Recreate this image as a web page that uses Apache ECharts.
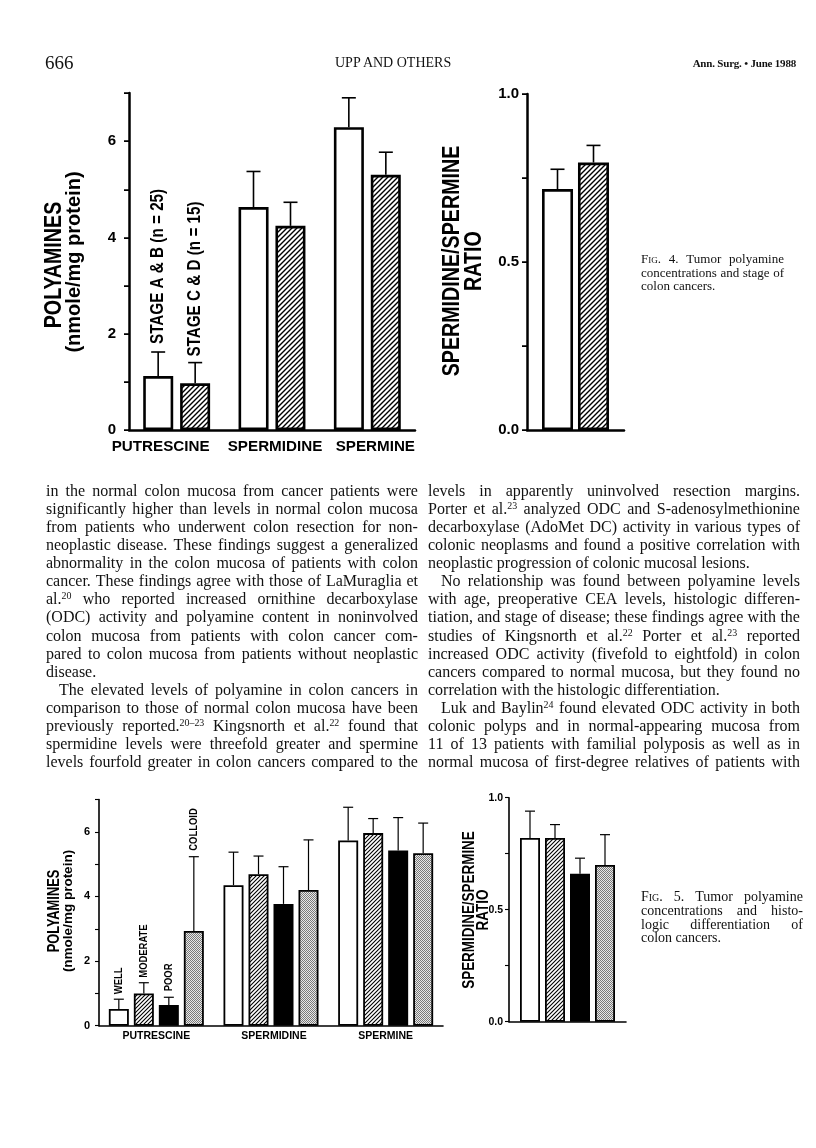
<!DOCTYPE html>
<html><head><meta charset="utf-8">
<script src="https://cdn.jsdelivr.net/npm/echarts@6/dist/echarts.min.js"></script>
<style>
html,body{margin:0;padding:0;background:#fff;}
#page{position:relative;width:816px;height:1148px;overflow:hidden;background:#fff;}
#chart{position:absolute;left:0;top:0;width:816px;height:1148px;}
.t{position:absolute;font-family:'Liberation Serif','Times New Roman',serif;color:#111;white-space:nowrap;}
.ln{position:absolute;display:flex;justify-content:space-between;font-family:'Liberation Serif','Times New Roman',serif;color:#111;white-space:nowrap;}
.ln.last{display:block;}
sup{font-size:0.62em;line-height:0;vertical-align:0.55em;}
i{font-style:normal;font-variant:small-caps;}
</style></head>
<body>
<div id="page"><div id="chart"></div></div>
<script>
// ---------------- DATA ----------------
const fig4Categories = ['PUTRESCINE', 'SPERMIDINE', 'SPERMINE'];
const fig4StageAB = [1.12, 4.63, 6.29];
const fig4StageABErr = [0.50, 0.74, 0.61];
const fig4StageCD = [0.97, 4.24, 5.30];
const fig4StageCDErr = [0.43, 0.49, 0.47];
const fig4RatioAB = [0.717];
const fig4RatioABErr = [0.059];
const fig4RatioCD = [0.796];
const fig4RatioCDErr = [0.051];
const fig4Notes = ['STAGE A & B (n = 25)', 'STAGE C & D (n = 15)'];

const fig5Categories = ['PUTRESCINE', 'SPERMIDINE', 'SPERMINE'];
const fig5Well = [0.52, 4.35, 5.73];
const fig5WellErr = [0.30, 1.02, 1.03];
const fig5Moderate = [1.00, 4.69, 5.96];
const fig5ModerateErr = [0.33, 0.56, 0.45];
const fig5Poor = [0.64, 3.77, 5.42];
const fig5PoorErr = [0.24, 1.15, 1.02];
const fig5Colloid = [2.93, 4.20, 5.34];
const fig5ColloidErr = [2.30, 1.55, 0.93];
const fig5RatioWell = [0.82];
const fig5RatioWellErr = [0.12];
const fig5RatioModerate = [0.82];
const fig5RatioModerateErr = [0.06];
const fig5RatioPoor = [0.66];
const fig5RatioPoorErr = [0.07];
const fig5RatioColloid = [0.70];
const fig5RatioColloidErr = [0.135];
const fig5Notes = ['WELL', 'MODERATE', 'POOR', 'COLLOID'];

const polyTickLabels = [0, 2, 4, 6];
const ratioTickLabels = [0, 0.5, 1];

// ---------------- STYLE HELPERS ----------------
const SANS = "'Liberation Sans',Arial,Helvetica,sans-serif";
const CONDENSE = 0.82;

function hatch(size, lw) {
  const c = document.createElement('canvas');
  c.width = size; c.height = size;
  const g = c.getContext('2d');
  g.fillStyle = '#fff'; g.fillRect(0, 0, size, size);
  g.strokeStyle = '#000'; g.lineWidth = lw; g.beginPath();
  g.moveTo(-1, 1); g.lineTo(1, -1);
  g.moveTo(0, size); g.lineTo(size, 0);
  g.moveTo(size - 1, size + 1); g.lineTo(size + 1, size - 1);
  g.stroke();
  return { image: c, repeat: 'repeat' };
}
function stipple() {
  const c = document.createElement('canvas');
  c.width = 2; c.height = 2;
  const g = c.getContext('2d');
  g.fillStyle = '#e8e8e8'; g.fillRect(0, 0, 2, 2);
  g.fillStyle = '#7a7a7a'; g.fillRect(0, 0, 1, 1); g.fillRect(1, 1, 1, 1);
  return { image: c, repeat: 'repeat' };
}

function barSeries(gi, values, fill, bw, gapPct, borderW) {
  return {
    type: 'bar', xAxisIndex: gi, yAxisIndex: gi, data: values,
    barWidth: bw, barGap: gapPct, silent: true, animation: false,
    itemStyle: { color: fill, borderColor: '#000', borderWidth: borderW }
  };
}

function errSeries(gi, idx, n, bw, gap, values, errs, note, noteFont, noteGap, capW, lw) {
  return {
    type: 'custom', xAxisIndex: gi, yAxisIndex: gi, z: 4, silent: true, animation: false,
    data: values.map((v, k) => [k, v, v + errs[k]]),
    renderItem: function (params, api) {
      const k = api.value(0);
      const base = api.coord([k, api.value(1)]);
      const top = api.coord([k, api.value(2)]);
      const total = n * bw + (n - 1) * gap;
      const x = base[0] - total / 2 + idx * (bw + gap) + bw / 2;
      const children = [
        { type: 'line', shape: { x1: x, y1: base[1], x2: x, y2: top[1] }, style: { stroke: '#000', lineWidth: lw } },
        { type: 'line', shape: { x1: x - capW / 2, y1: top[1], x2: x + capW / 2, y2: top[1] }, style: { stroke: '#000', lineWidth: lw } }
      ];
      if (note && k === 0) {
        children.push({
          type: 'text', x: x, y: top[1] - noteGap, rotation: Math.PI / 2, scaleX: CONDENSE,
          style: { text: note, font: noteFont, fill: '#000', align: 'left', verticalAlign: 'middle', textAlign: 'left', textVerticalAlign: 'middle' }
        });
      }
      return { type: 'group', children: children };
    }
  };
}

function yAxisDef(gi, max, interval, labels, fmt, fontSize, margin, lw, tickLen) {
  return {
    type: 'value', gridIndex: gi, min: 0, max: max, interval: interval,
    axisLine: { show: true, lineStyle: { color: '#000', width: lw } },
    axisTick: { show: true, length: tickLen, lineStyle: { color: '#000', width: Math.max(1, lw * 0.7) } },
    splitLine: { show: false },
    axisLabel: {
      margin: margin, color: '#000', fontWeight: 'bold', fontSize: fontSize, fontFamily: SANS,
      formatter: v => labels.some(l => Math.abs(l - v) < 1e-9) ? fmt(v) : ''
    }
  };
}

function xAxisDef(gi, cats, lw, labelCfg) {
  return {
    type: 'category', gridIndex: gi, data: cats,
    axisLine: { show: true, lineStyle: { color: '#000', width: lw } },
    axisTick: { show: false },
    axisLabel: labelCfg || { show: false }
  };
}

function richLabel(fontSize, margin, shifts) {
  const rich = {};
  shifts.forEach((s, i) => {
    rich['c' + i] = {
      fontSize: fontSize, fontWeight: 'bold', fontFamily: SANS, color: '#000',
      padding: s < 0 ? [0, -2 * s, 0, 0] : [0, 0, 0, 2 * s]
    };
  });
  return {
    show: true, interval: 0, margin: margin,
    formatter: (v, i) => '{c' + i + '|' + v + '}',
    rich: rich
  };
}

function vtext(x, y, text, font, sx) {
  return {
    type: 'text', x: x, y: y, rotation: Math.PI / 2, scaleX: sx, silent: true,
    style: { text: text, font: font, fill: '#000', textAlign: 'center', textVerticalAlign: 'middle', align: 'center', verticalAlign: 'middle' }
  };
}

// ---------------- CHART ----------------
const chart = echarts.init(document.getElementById('chart'), null, { renderer: 'canvas' });

const H4 = hatch(5, 1.4);
const H5 = hatch(4, 1.1);
const G5 = stipple();

const grids = [
  { left: 129, top: 93, width: 286, height: 337 },     // fig 4 polyamines
  { left: 527, top: 94, width: 97, height: 336 },      // fig 4 ratio
  { left: 99, top: 799.5, width: 344, height: 226.2 }, // fig 5 polyamines
  { left: 509, top: 797.7, width: 117, height: 224 }   // fig 5 ratio
];

const fmtInt = v => String(v);
const fmtDec = v => v.toFixed(1);

const option = {
  backgroundColor: 'transparent',
  animation: false,
  grid: grids,
  xAxis: [
    xAxisDef(0, fig4Categories, 2.5, richLabel(15.2, 9, [-16, 3, 8])),
    xAxisDef(1, [''], 2.5),
    xAxisDef(2, fig5Categories, 1.6, richLabel(10.5, 5, [0, 3, 0])),
    xAxisDef(3, [''], 1.6)
  ],
  yAxis: [
    yAxisDef(0, 7, 1, polyTickLabels, fmtInt, 15, 13, 2.5, 5),
    yAxisDef(1, 1, 0.25, ratioTickLabels, fmtDec, 15, 8, 2.5, 5),
    yAxisDef(2, 7, 1, polyTickLabels, fmtInt, 11, 9, 1.6, 4),
    yAxisDef(3, 1, 0.25, ratioTickLabels, fmtDec, 10.5, 6, 1.6, 4)
  ],
  series: [
    // fig 4 left
    barSeries(0, fig4StageAB, '#fff', 30, '23%', 2.6),
    barSeries(0, fig4StageCD, H4, 30, '23%', 2.6),
    errSeries(0, 0, 2, 30, 7, fig4StageAB, fig4StageABErr, fig4Notes[0], 'bold 18.6px ' + SANS, 8, 14, 1.6),
    errSeries(0, 1, 2, 30, 7, fig4StageCD, fig4StageCDErr, fig4Notes[1], 'bold 18.6px ' + SANS, 6, 14, 1.6),
    // fig 4 right
    barSeries(1, fig4RatioAB, '#fff', 31, '16%', 2.6),
    barSeries(1, fig4RatioCD, H4, 31, '16%', 2.6),
    errSeries(1, 0, 2, 31, 5, fig4RatioAB, fig4RatioABErr, null, '', 0, 14, 1.6),
    errSeries(1, 1, 2, 31, 5, fig4RatioCD, fig4RatioCDErr, null, '', 0, 14, 1.6),
    // fig 5 left
    barSeries(2, fig5Well, '#fff', 20, '25%', 1.8),
    barSeries(2, fig5Moderate, H5, 20, '25%', 1.8),
    barSeries(2, fig5Poor, '#000', 20, '25%', 1.8),
    barSeries(2, fig5Colloid, G5, 20, '25%', 1.8),
    errSeries(2, 0, 4, 20, 5, fig5Well, fig5WellErr, fig5Notes[0], 'bold 11.5px ' + SANS, 5, 10, 1.2),
    errSeries(2, 1, 4, 20, 5, fig5Moderate, fig5ModerateErr, fig5Notes[1], 'bold 11.5px ' + SANS, 5, 10, 1.2),
    errSeries(2, 2, 4, 20, 5, fig5Poor, fig5PoorErr, fig5Notes[2], 'bold 11.5px ' + SANS, 6, 10, 1.2),
    errSeries(2, 3, 4, 20, 5, fig5Colloid, fig5ColloidErr, fig5Notes[3], 'bold 11.5px ' + SANS, 6, 10, 1.2),
    // fig 5 right
    barSeries(3, fig5RatioWell, '#fff', 20, '25%', 1.8),
    barSeries(3, fig5RatioModerate, H5, 20, '25%', 1.8),
    barSeries(3, fig5RatioPoor, '#000', 20, '25%', 1.8),
    barSeries(3, fig5RatioColloid, G5, 20, '25%', 1.8),
    errSeries(3, 0, 4, 20, 5, fig5RatioWell, fig5RatioWellErr, null, '', 0, 10, 1.2),
    errSeries(3, 1, 4, 20, 5, fig5RatioModerate, fig5RatioModerateErr, null, '', 0, 10, 1.2),
    errSeries(3, 2, 4, 20, 5, fig5RatioPoor, fig5RatioPoorErr, null, '', 0, 10, 1.2),
    errSeries(3, 3, 4, 20, 5, fig5RatioColloid, fig5RatioColloidErr, null, '', 0, 10, 1.2)
  ],
  graphic: { elements: [
    vtext(54, 265, 'POLYAMINES', 'bold 24px ' + SANS, CONDENSE),
    vtext(74, 262, '(nmole/mg protein)', 'bold 20px ' + SANS, 1),
    vtext(452, 261, 'SPERMIDINE/SPERMINE', 'bold 24px ' + SANS, CONDENSE),
    vtext(474, 261, 'RATIO', 'bold 24px ' + SANS, CONDENSE),
    vtext(55, 911, 'POLYAMINES', 'bold 15.7px ' + SANS, CONDENSE),
    vtext(68, 911, '(nmole/mg protein)', 'bold 13.5px ' + SANS, 1),
    vtext(469, 910, 'SPERMIDINE/SPERMINE', 'bold 16.4px ' + SANS, CONDENSE),
    vtext(483, 910, 'RATIO', 'bold 16.4px ' + SANS, CONDENSE)
  ] }
};

chart.setOption(option);

// ---------------- PAGE TEXT ----------------
const page = document.getElementById('page');
function addText(html, left, top, size, extra) {
  const d = document.createElement('div');
  d.className = 't';
  d.style.left = left + 'px'; d.style.top = top + 'px';
  d.style.fontSize = size + 'px';
  d.style.lineHeight = '1';
  if (extra) Object.assign(d.style, extra);
  d.innerHTML = html;
  page.appendChild(d);
  return d;
}
addText('666', 45, 53, 19);
addText('UPP AND OTHERS', 335, 56, 14);
addText('Ann. Surg. • June 1988', 0, 58, 11, { left: 'auto', right: '20px', fontWeight: 'bold', letterSpacing: '-0.2px' });

function column(left, centerY0, width, step, size, lines) {
  lines.forEach((s, i) => {
    let indent = 0, last = false;
    if (s.startsWith('>')) { indent = 13; s = s.slice(1); }
    if (s.endsWith('|')) { last = true; s = s.slice(0, -1); }
    const d = document.createElement('div');
    d.className = 'ln' + (last ? ' last' : '');
    d.style.left = (left + indent) + 'px';
    d.style.width = (width - indent) + 'px';
    d.style.fontSize = size + 'px';
    d.style.lineHeight = step + 'px';
    d.style.top = (centerY0 + i * step - step / 2) + 'px';
    d.innerHTML = last ? s : s.split(' ').map(w => '<span>' + w + '</span>').join('');
    page.appendChild(d);
  });
}

column(46, 491, 372, 18.07, 16, [
  'in the normal colon mucosa from cancer patients were',
  'significantly higher than levels in normal colon mucosa',
  'from patients who underwent colon resection for non-',
  'neoplastic disease. These findings suggest a generalized',
  'abnormality in the colon mucosa of patients with colon',
  'cancer. These findings agree with those of LaMuraglia et',
  'al.<sup>20</sup> who reported increased ornithine decarboxylase',
  '(ODC) activity and polyamine content in noninvolved',
  'colon mucosa from patients with colon cancer com-',
  'pared to colon mucosa from patients without neoplastic',
  'disease.|',
  '>The elevated levels of polyamine in colon cancers in',
  'comparison to those of normal colon mucosa have been',
  'previously reported.<sup>20–23</sup> Kingsnorth et al.<sup>22</sup> found that',
  'spermidine levels were threefold greater and spermine',
  'levels fourfold greater in colon cancers compared to the'
]);
column(428, 491, 372, 18.07, 16, [
  'levels in apparently uninvolved resection margins.',
  'Porter et al.<sup>23</sup> analyzed ODC and S-adenosylmethionine',
  'decarboxylase (AdoMet DC) activity in various types of',
  'colonic neoplasms and found a positive correlation with',
  'neoplastic progression of colonic mucosal lesions.|',
  '>No relationship was found between polyamine levels',
  'with age, preoperative CEA levels, histologic differen-',
  'tiation, and stage of disease; these findings agree with the',
  'studies of Kingsnorth et al.<sup>22</sup> Porter et al.<sup>23</sup> reported',
  'increased ODC activity (fivefold to eightfold) in colon',
  'cancers compared to normal mucosa, but they found no',
  'correlation with the histologic differentiation.|',
  '>Luk and Baylin<sup>24</sup> found elevated ODC activity in both',
  'colonic polyps and in normal-appearing mucosa from',
  '11 of 13 patients with familial polyposis as well as in',
  'normal mucosa of first-degree relatives of patients with'
]);

column(641, 259, 143, 13.6, 13, [
  '<i>Fig.</i> 4. Tumor polyamine',
  'concentrations and stage of',
  'colon cancers.|'
]);
column(641, 897, 162, 13.7, 14, [
  '<i>Fig.</i> 5. Tumor polyamine',
  'concentrations and histo-',
  'logic differentiation of',
  'colon cancers.|'
]);
</script>
</body></html>
